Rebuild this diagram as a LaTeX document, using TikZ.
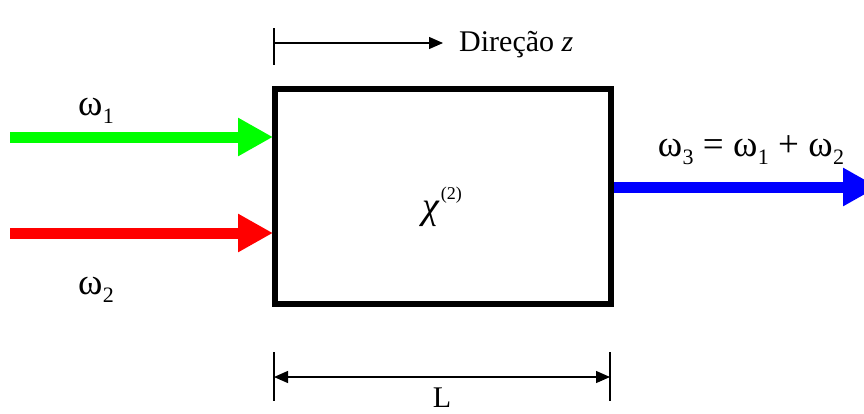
\documentclass[tikz,border=0pt]{standalone}
\usepackage{fontspec}
\setmainfont{Liberation Serif}
\usetikzlibrary{arrows.meta}
\newcommand{\om}[1]{ω\kern0.5pt\raisebox{-0.22em}{\fontsize{22}{24}\selectfont #1}}
\begin{document}
\begin{tikzpicture}[x=1pt,y=-1pt,
  beam/.style={line width=11pt,-{Triangle[length=35pt,width=36pt]}},
  thin/.style={line width=1.3pt},
  lbl/.style={font=\fontsize{30}{34}\selectfont, inner sep=0pt},
  wlbl/.style={font=\fontsize{37}{40}\selectfont, inner sep=0pt}]
\useasboundingbox (0,0) rectangle (864,413);
\node[draw, line width=6.5pt, minimum width=336pt, minimum height=215pt, inner sep=0pt] (box) at (443,196.5) {};
\node[inner sep=0pt] (chi) at (442,207) {\fontsize{38}{40}\selectfont\textit{χ}\kern1pt\raisebox{0.5em}{\fontsize{18}{20}\selectfont(2)}};
% input beams
\coordinate (g0) at (10,137);
\coordinate (g1) at (273,137);
\coordinate (r0) at (10,233);
\coordinate (r1) at (273,233);
\coordinate (b0) at (614,187);
\coordinate (b1) at (878,187);
\draw[beam, draw={rgb,255:red,0;green,255;blue,0}, fill={rgb,255:red,0;green,255;blue,0}] (g0) -- (g1);
\draw[beam, draw=red, fill=red] (r0) -- (r1);
\draw[beam, draw=blue, fill=blue] (b0) -- (b1);
\node[wlbl] (w1) at (96,111) {\om{1}};
\node[wlbl] (w2) at (96,290) {\om{2}};
\node[wlbl] (w3) at (751,150) {\om{3} = \om{1} + \om{2}};
% direction
\coordinate (d0) at (274,28);
\coordinate (d1) at (274,65);
\coordinate (ds) at (274,43);
\coordinate (de) at (443,43);
\draw[thin] (d0) -- (d1);
\draw[thin,-{Triangle[length=14pt,width=12pt]}] (ds) -- (de);
\node[lbl, anchor=west] (dir) at (459,45) {Direção \textit{z}};
% length
\coordinate (l0) at (274,352);
\coordinate (l1) at (274,401);
\coordinate (r0t) at (610,352);
\coordinate (r1t) at (610,401);
\draw[thin] (l0) -- (l1);
\draw[thin] (r0t) -- (r1t);
\coordinate (la) at (274,377);
\coordinate (lb) at (610,377);
\draw[thin,{Triangle[length=14pt,width=12pt]}-{Triangle[length=14pt,width=12pt]}] (la) -- (lb);
\node[lbl, anchor=base] (L) at (442,407) {L};
\end{tikzpicture}
\end{document}
